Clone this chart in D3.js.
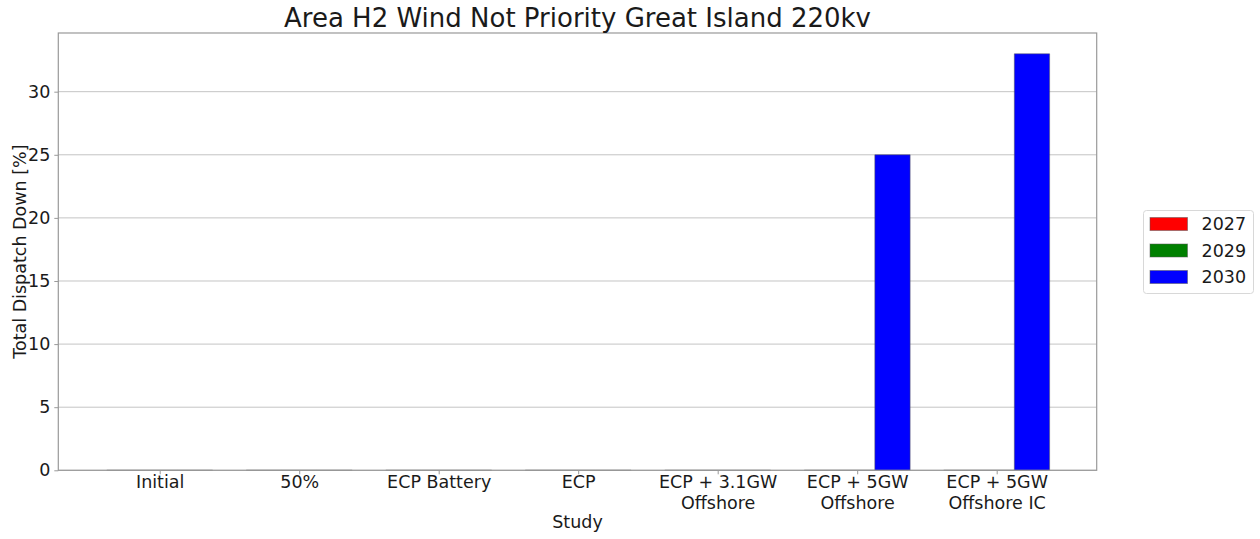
<!DOCTYPE html>
<html><head><meta charset="utf-8">
<script src="https://cdn.jsdelivr.net/npm/d3@7"></script>
<style>body{margin:0;background:#fff;} text{font-family:"DejaVu Sans",sans-serif;fill:#1a1a1a;}</style>
</head><body><svg id="c" width="1260" height="539"></svg>
<script>
const categories = ["Initial","50%","ECP Battery","ECP","ECP + 3.1GW\nOffshore","ECP + 5GW\nOffshore","ECP + 5GW\nOffshore IC"];
const seriesNames = ["2027","2029","2030"];
const seriesColors = ["#ff0000","#008000","#0000ff"];
const values2027 = [0,0,0,0,0,0,0];
const values2029 = [0,0,0,0,0,0,0];
const values2030 = [0,0,0,0,0,25,33];
const yTicks = [0,5,10,15,20,25,30];
const titleText = "Area H2 Wind Not Priority Great Island 220kv";
const xLabel = "Study";
const yLabel = "Total Dispatch Down [%]";

const series = [values2027, values2029, values2030];
const svg = d3.select("#c");
const L=58.3, R=1096.7, T=33, B=470.3;
const x = d3.scaleLinear().domain([-0.727, categories.length-1+0.717]).range([L,R]);
const y = d3.scaleLinear().domain([0, 33*1.05]).range([B,T]);
const barW = 0.253;

// grid
svg.append("g").selectAll("line").data(yTicks).join("line")
  .attr("x1",L).attr("x2",R).attr("y1",d=>y(d)).attr("y2",d=>y(d))
  .attr("stroke","#c4c4c4").attr("stroke-width",1);

// bars
series.forEach((vals,si)=>{
  svg.append("g").selectAll("path").data(vals).join("path")
    .attr("d",(d,i)=>{
      const x0=x(i+(si-1)*barW-barW/2), x1=x(i+(si-1)*barW+barW/2);
      const y0=y(0), y1=y(d);
      return `M${x0},${y0}L${x0},${y1}L${x1},${y1}L${x1},${y0}Z`;
    })
    .attr("fill",seriesColors[si]).attr("stroke","#555").attr("stroke-opacity",0.5).attr("stroke-width",1);
});

// axes frame
svg.append("rect").attr("x",L).attr("y",T).attr("width",R-L).attr("height",B-T)
  .attr("fill","none").attr("stroke","#999").attr("stroke-width",1.2);

// y axis
const ya = svg.append("g").attr("transform",`translate(${L},0)`)
  .call(d3.axisLeft(y).tickValues(yTicks).tickSize(4).tickPadding(4));
ya.select(".domain").remove();
ya.selectAll("line").attr("stroke","#999");
ya.selectAll("text").style("font-size","17.5px").attr("fill","#1a1a1a").attr("font-family","DejaVu Sans");

// x axis
const xa = svg.append("g").attr("transform",`translate(0,${B})`)
  .call(d3.axisBottom(x).tickValues(d3.range(categories.length)).tickSize(4).tickFormat(""));
xa.select(".domain").remove();
xa.selectAll("line").attr("stroke","#999");
xa.selectAll(".tick").each(function(d){
  const lines = categories[d].split("\n");
  const t = d3.select(this).append("text").attr("text-anchor","middle").style("font-size","17.5px").attr("fill","#1a1a1a");
  lines.forEach((ln,k)=>t.append("tspan").attr("x",0).attr("y",18+k*21).text(ln));
});

// title & labels
svg.append("text").attr("x",(L+R)/2).attr("y",27).attr("text-anchor","middle").style("font-size","26px").text(titleText);
svg.append("text").attr("x",(L+R)/2).attr("y",528).attr("text-anchor","middle").style("font-size","17.5px").text(xLabel);
svg.append("text").attr("transform",`translate(26,${(T+B)/2}) rotate(-90)`).attr("text-anchor","middle").style("font-size","17.5px").text(yLabel);

// legend
const lg = svg.append("g");
lg.append("rect").attr("x",1143.5).attr("y",210.5).attr("width",110).attr("height",83).attr("rx",3)
  .attr("fill","#fff").attr("stroke","#d8d8d8");
seriesNames.forEach((n,i)=>{
  const cy = 224+i*26.5;
  lg.append("rect").attr("x",1150).attr("y",cy-6.5).attr("width",37.5).attr("height",13)
    .attr("fill",seriesColors[i]).attr("stroke","#555").attr("stroke-opacity",0.5);
  lg.append("text").attr("x",1201.5).attr("y",cy+6.3).style("font-size","17.5px").text(n);
});
</script></body></html>
